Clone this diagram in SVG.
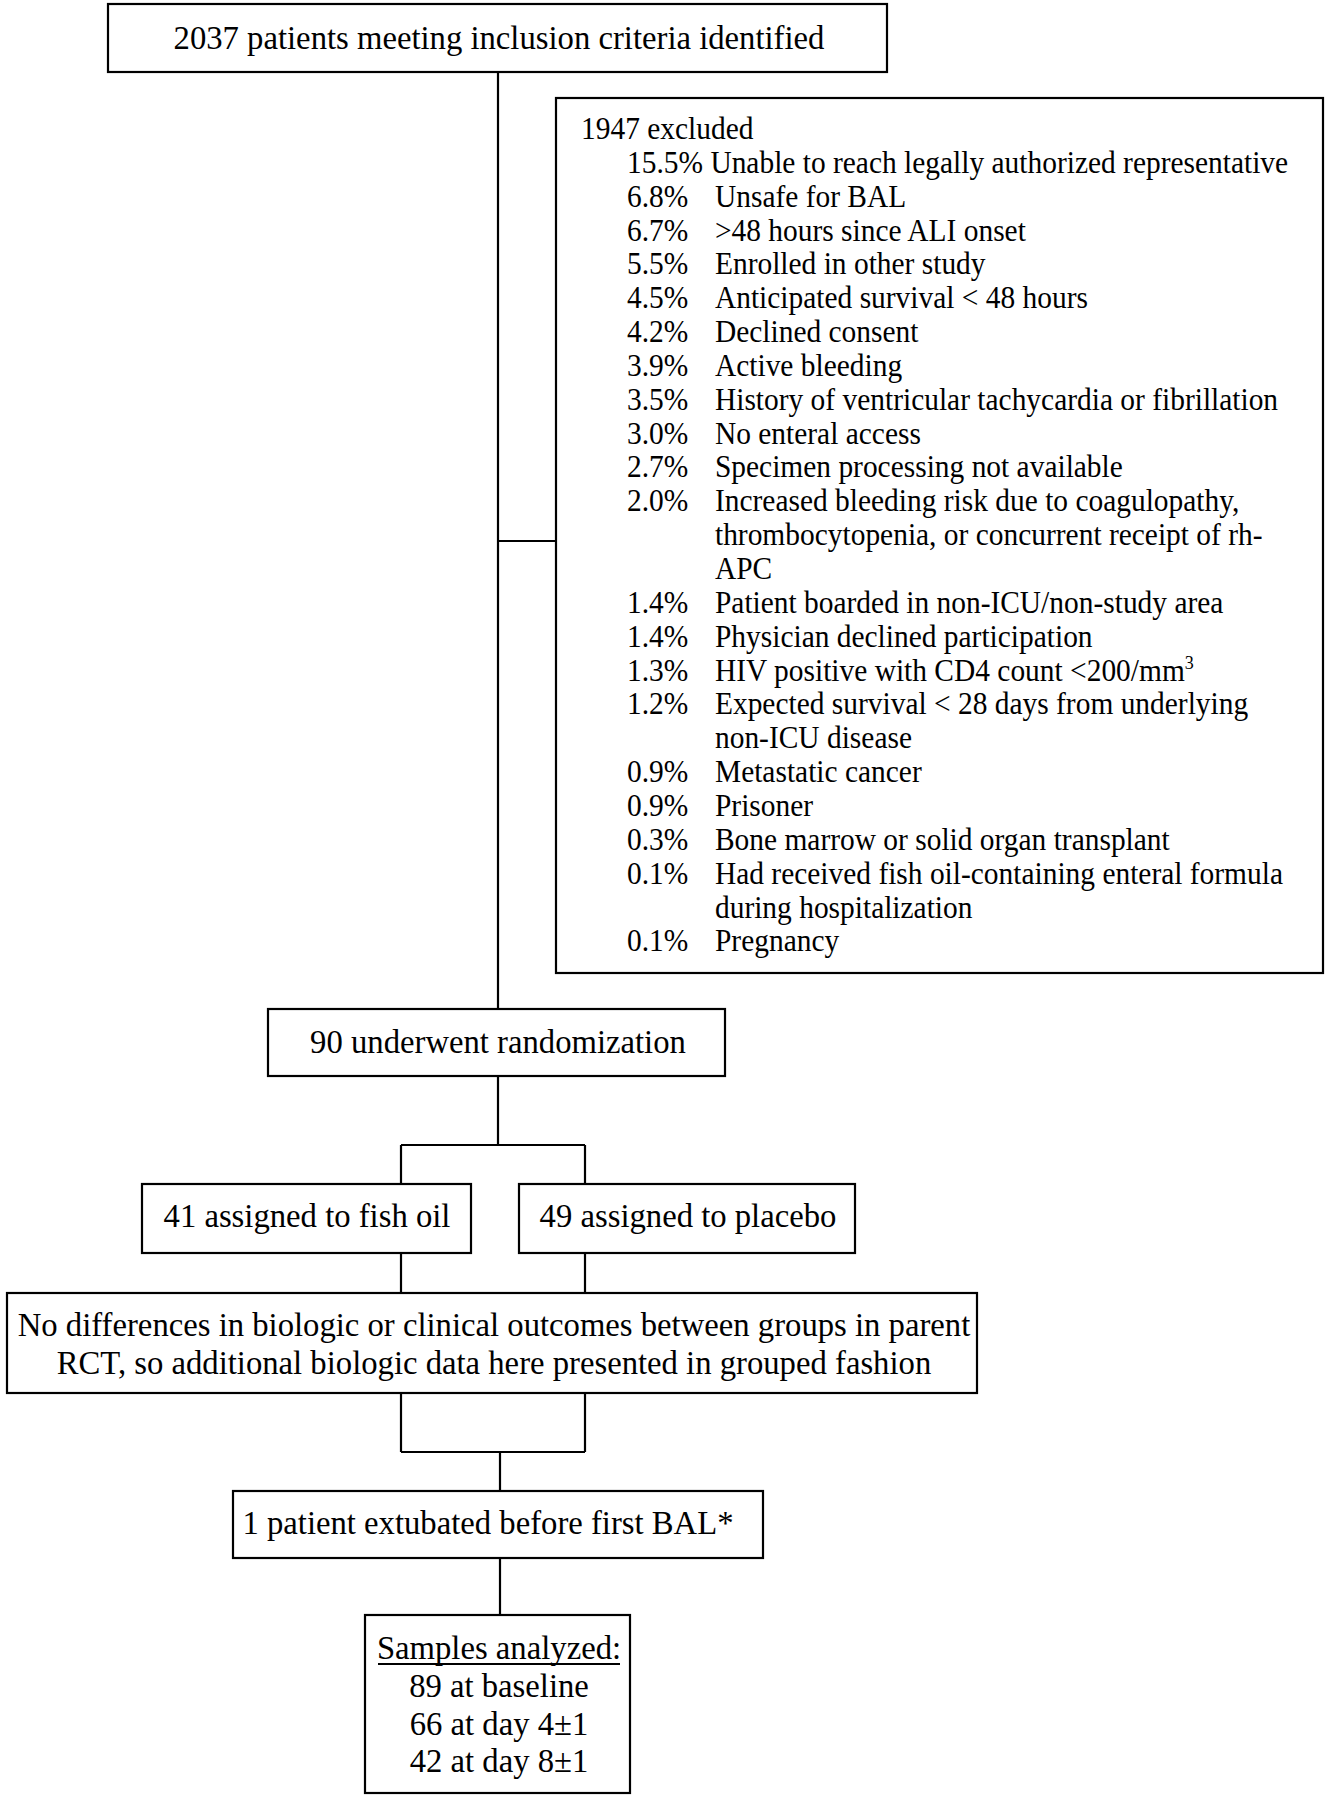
<svg xmlns="http://www.w3.org/2000/svg" width="1330" height="1800" viewBox="0 0 1330 1800">
<style>
.box{fill:#fff;stroke:#000;stroke-width:2.2}
.ln{fill:none;stroke:#000;stroke-width:2.2}
text{font-family:"Liberation Serif","Times New Roman",serif;font-size:32.7px;fill:#000}
.c{text-anchor:middle}
.lst text{font-size:31px}
</style>
<rect width="1330" height="1800" fill="#fff"/>
<g id="connectors">
<path class="ln" d="M498,72 V1009 M498,541 H556"/>
<path class="ln" d="M498,1076 V1145 M401,1145 H585 M401,1145 V1184 M585,1145 V1184"/>
<path class="ln" d="M401,1253 V1293 M585,1253 V1293"/>
<path class="ln" d="M401,1393 V1452 M585,1393 V1452 M401,1452 H585 M500,1452 V1491"/>
<path class="ln" d="M500,1558 V1615"/>
</g>
<g id="n1">
<rect class="box" x="108" y="4" width="779" height="68"/>
<text class="c" x="499" y="49">2037 patients meeting inclusion criteria identified</text>
</g>
<g id="n2">
<rect class="box" x="556" y="98" width="767" height="875"/>
<g class="lst" transform="scale(0.95,1)">
<text x="611.6" y="139">1947 excluded</text>
<g transform="translate(0,139)">
<text x="660" y="33.85">15.5% Unable to reach legally authorized representative</text>
<text x="660" y="67.7">6.8%</text><text x="752.6" y="67.7">Unsafe for BAL</text>
<text x="660" y="101.55">6.7%</text><text x="752.6" y="101.55">&gt;48 hours since ALI onset</text>
<text x="660" y="135.4">5.5%</text><text x="752.6" y="135.4">Enrolled in other study</text>
<text x="660" y="169.25">4.5%</text><text x="752.6" y="169.25">Anticipated survival &lt; 48 hours</text>
<text x="660" y="203.1">4.2%</text><text x="752.6" y="203.1">Declined consent</text>
<text x="660" y="236.95">3.9%</text><text x="752.6" y="236.95">Active bleeding</text>
<text x="660" y="270.8">3.5%</text><text x="752.6" y="270.8">History of ventricular tachycardia or fibrillation</text>
<text x="660" y="304.65">3.0%</text><text x="752.6" y="304.65">No enteral access</text>
<text x="660" y="338.5">2.7%</text><text x="752.6" y="338.5">Specimen processing not available</text>
<text x="660" y="372.35">2.0%</text><text x="752.6" y="372.35">Increased bleeding risk due to coagulopathy,</text>
<text x="752.6" y="406.2">thrombocytopenia, or concurrent receipt of rh-</text>
<text x="752.6" y="440.05">APC</text>
<text x="660" y="473.9">1.4%</text><text x="752.6" y="473.9">Patient boarded in non-ICU/non-study area</text>
<text x="660" y="507.75">1.4%</text><text x="752.6" y="507.75">Physician declined participation</text>
<text x="660" y="541.6">1.3%</text><text x="752.6" y="541.6">HIV positive with CD4 count &lt;200/mm<tspan font-size="19" dy="-12">3</tspan></text>
<text x="660" y="575.45">1.2%</text><text x="752.6" y="575.45">Expected survival &lt; 28 days from underlying</text>
<text x="752.6" y="609.3">non-ICU disease</text>
<text x="660" y="643.15">0.9%</text><text x="752.6" y="643.15">Metastatic cancer</text>
<text x="660" y="677">0.9%</text><text x="752.6" y="677">Prisoner</text>
<text x="660" y="710.85">0.3%</text><text x="752.6" y="710.85">Bone marrow or solid organ transplant</text>
<text x="660" y="744.7">0.1%</text><text x="752.6" y="744.7">Had received fish oil-containing enteral formula</text>
<text x="752.6" y="778.55">during hospitalization</text>
<text x="660" y="812.4">0.1%</text><text x="752.6" y="812.4">Pregnancy</text>
</g>
</g>
</g>
<g id="n3">
<rect class="box" x="268" y="1009" width="457" height="67"/>
<text class="c" x="498" y="1053">90 underwent randomization</text>
</g>
<g id="n4">
<rect class="box" x="142" y="1184" width="329" height="69"/>
<text class="c" x="307" y="1227">41 assigned to fish oil</text>
</g>
<g id="n5">
<rect class="box" x="519" y="1184" width="336" height="69"/>
<text class="c" x="688" y="1227">49 assigned to placebo</text>
</g>
<g id="n6">
<rect class="box" x="7" y="1293" width="970" height="100"/>
<text class="c" x="494" y="1336">No differences in biologic or clinical outcomes between groups in parent</text>
<text class="c" x="494" y="1374">RCT, so additional biologic data here presented in grouped fashion</text>
</g>
<g id="n7">
<rect class="box" x="233" y="1491" width="530" height="67"/>
<text class="c" x="488" y="1534">1 patient extubated before first BAL*</text>
</g>
<g id="n8">
<rect class="box" x="365" y="1615" width="265" height="178"/>
<text class="c" x="499" y="1659">Samples analyzed:</text>
<path class="ln" d="M378,1664 H620" stroke-width="1.6"/>
<text class="c" x="499" y="1697">89 at baseline</text>
<text class="c" x="499" y="1735">66 at day 4±1</text>
<text class="c" x="499" y="1772">42 at day 8±1</text>
</g>
</svg>
